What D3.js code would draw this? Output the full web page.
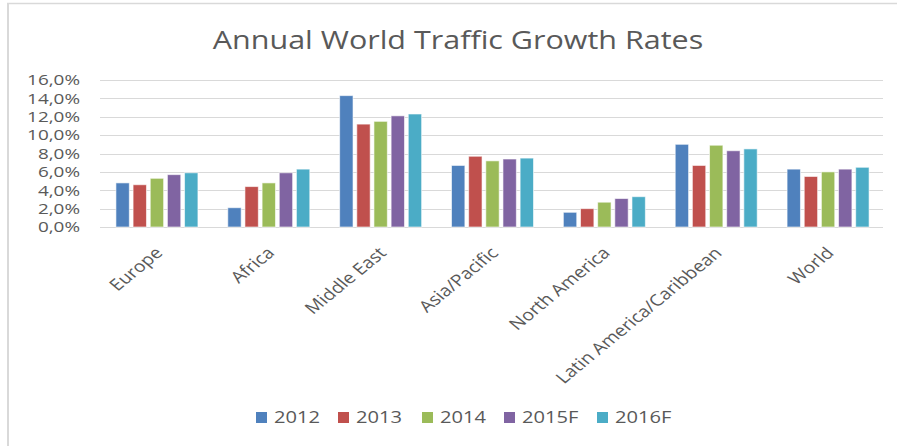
<!DOCTYPE html>
<html>
<head>
<meta charset="utf-8">
<script src="https://cdn.jsdelivr.net/npm/d3@7"></script>
<style>
  body { margin: 0; background: #fff; }
  text { font-family: "Open Sans", "Noto Sans", sans-serif; }
</style>
</head>
<body>
<div id="chart"></div>
<script>
// data (percent)
const regions = ["Europe", "Africa", "Middle East", "Asia/Pacific", "North America", "Latin America/Caribbean", "World"];
const years = ["2012", "2013", "2014", "2015F", "2016F"];
const g2012 = [4.8, 2.1, 14.3, 6.7, 1.6, 9.0, 6.3];
const g2013 = [4.6, 4.4, 11.2, 7.7, 2.0, 6.7, 5.5];
const g2014 = [5.3, 4.8, 11.5, 7.2, 2.7, 8.9, 6.0];
const g2015 = [5.7, 5.9, 12.1, 7.4, 3.1, 8.3, 6.3];
const g2016 = [5.9, 6.3, 12.3, 7.5, 3.3, 8.5, 6.5];
const yTicks = [0, 2, 4, 6, 8, 10, 12, 14, 16];
const colors = ["#4F81BD", "#C0504D", "#9BBB59", "#8064A2", "#4BACC6"];

const series = [g2012, g2013, g2014, g2015, g2016];

const W = 897, H = 446;
const margin = { top: 80, right: 14, bottom: 219, left: 100 };
const width = W - margin.left - margin.right,
      height = H - margin.top - margin.bottom;
// the picture is stretched sideways, so text is too
const stretch = 1.22;

const svg = d3.select("#chart").append("svg")
    .attr("width", W)
    .attr("height", H);

// outer frame (only top and left edges show)
svg.append("line").attr("x1", 7).attr("x2", W).attr("y1", 3.5).attr("y2", 3.5)
    .attr("stroke", "#D9D9D9").attr("stroke-width", 1.5);
svg.append("line").attr("x1", 8).attr("x2", 8).attr("y1", 3).attr("y2", H)
    .attr("stroke", "#D9D9D9").attr("stroke-width", 2);

svg.append("text")
    .attr("transform", `translate(458, 49) scale(${stretch}, 1)`)
    .attr("text-anchor", "middle")
    .style("font-size", "25px")
    .attr("fill", "#595959")
    .text("Annual World Traffic Growth Rates");

const g = svg.append("g")
    .attr("transform", `translate(${margin.left}, ${margin.top})`);

const x0 = d3.scaleBand().domain(regions).range([0, width]).padding(0);
const x1 = d3.scaleBand().domain(years).range([0, 82]).paddingInner(0.22);
const y = d3.scaleLinear().domain([0, 16]).range([height, 0]);

// gridlines
g.append("g")
    .selectAll("line")
    .data(yTicks)
    .enter().append("line")
    .attr("x1", 0).attr("x2", width)
    .attr("y1", d => Math.round(y(d)) + 0.5).attr("y2", d => Math.round(y(d)) + 0.5)
    .attr("stroke", "#D9D9D9")
    .attr("stroke-width", 1.2);

// y axis labels
const yAxis = d3.axisLeft(y).tickValues(yTicks).tickSize(0).tickPadding(0)
    .tickFormat(d => d3.format(".1f")(d).replace(".", ",") + "%");
g.append("g")
    .call(yAxis)
    .call(s => s.select(".domain").remove())
    .selectAll("text")
    .attr("x", null)
    .attr("transform", "translate(-20, 0) scale(1.26, 1)")
    .style("font-size", "15px")
    .style("font-family", "'Open Sans', sans-serif")
    .attr("fill", "#595959");

// bars
const groups = g.selectAll(".grp")
    .data(regions)
    .enter().append("g")
    .attr("class", "grp")
    .attr("transform", d => `translate(${x0(d) + (x0.bandwidth() - 82) / 2 + 1}, 0)`);

groups.selectAll("rect")
    .data((d, i) => years.map((yr, k) => ({ yr: yr, v: series[k][i], k: k })))
    .enter().append("rect")
    .attr("x", d => x1(d.yr))
    .attr("y", d => y(d.v))
    .attr("width", x1.bandwidth())
    .attr("height", d => y(0) - y(d.v))
    .attr("fill", d => colors[d.k])
    .attr("stroke", "#fff")
    .attr("stroke-opacity", 0.6)
    .attr("stroke-width", 1);

// category labels, rotated
const xAxis = d3.axisBottom(x0).tickSize(0).tickPadding(0);
g.append("g")
    .attr("transform", `translate(0, ${height})`)
    .call(xAxis)
    .call(s => s.select(".domain").remove())
    .selectAll("text")
    .attr("y", null)
    .style("font-size", "16px")
    .style("font-family", "'Open Sans', sans-serif")
    .attr("fill", "#595959")
    .attr("text-anchor", "end")
    .attr("dy", "0.35em")
    .attr("transform", `translate(3, 23) scale(${stretch}, 1) rotate(-45)`);

// legend
const legendX = [256, 338, 422, 504, 597];
const legend = svg.append("g")
    .selectAll("g")
    .data(years)
    .enter().append("g")
    .attr("transform", (d, i) => `translate(${legendX[i]}, 412)`);

legend.append("rect")
    .attr("width", 11).attr("height", 11)
    .attr("fill", (d, i) => colors[i]);

legend.append("text")
    .attr("transform", `translate(18, 11) scale(${stretch}, 1)`)
    .style("font-size", "16.5px")
    .attr("fill", "#595959")
    .text(d => d);
</script>
</body>
</html>
